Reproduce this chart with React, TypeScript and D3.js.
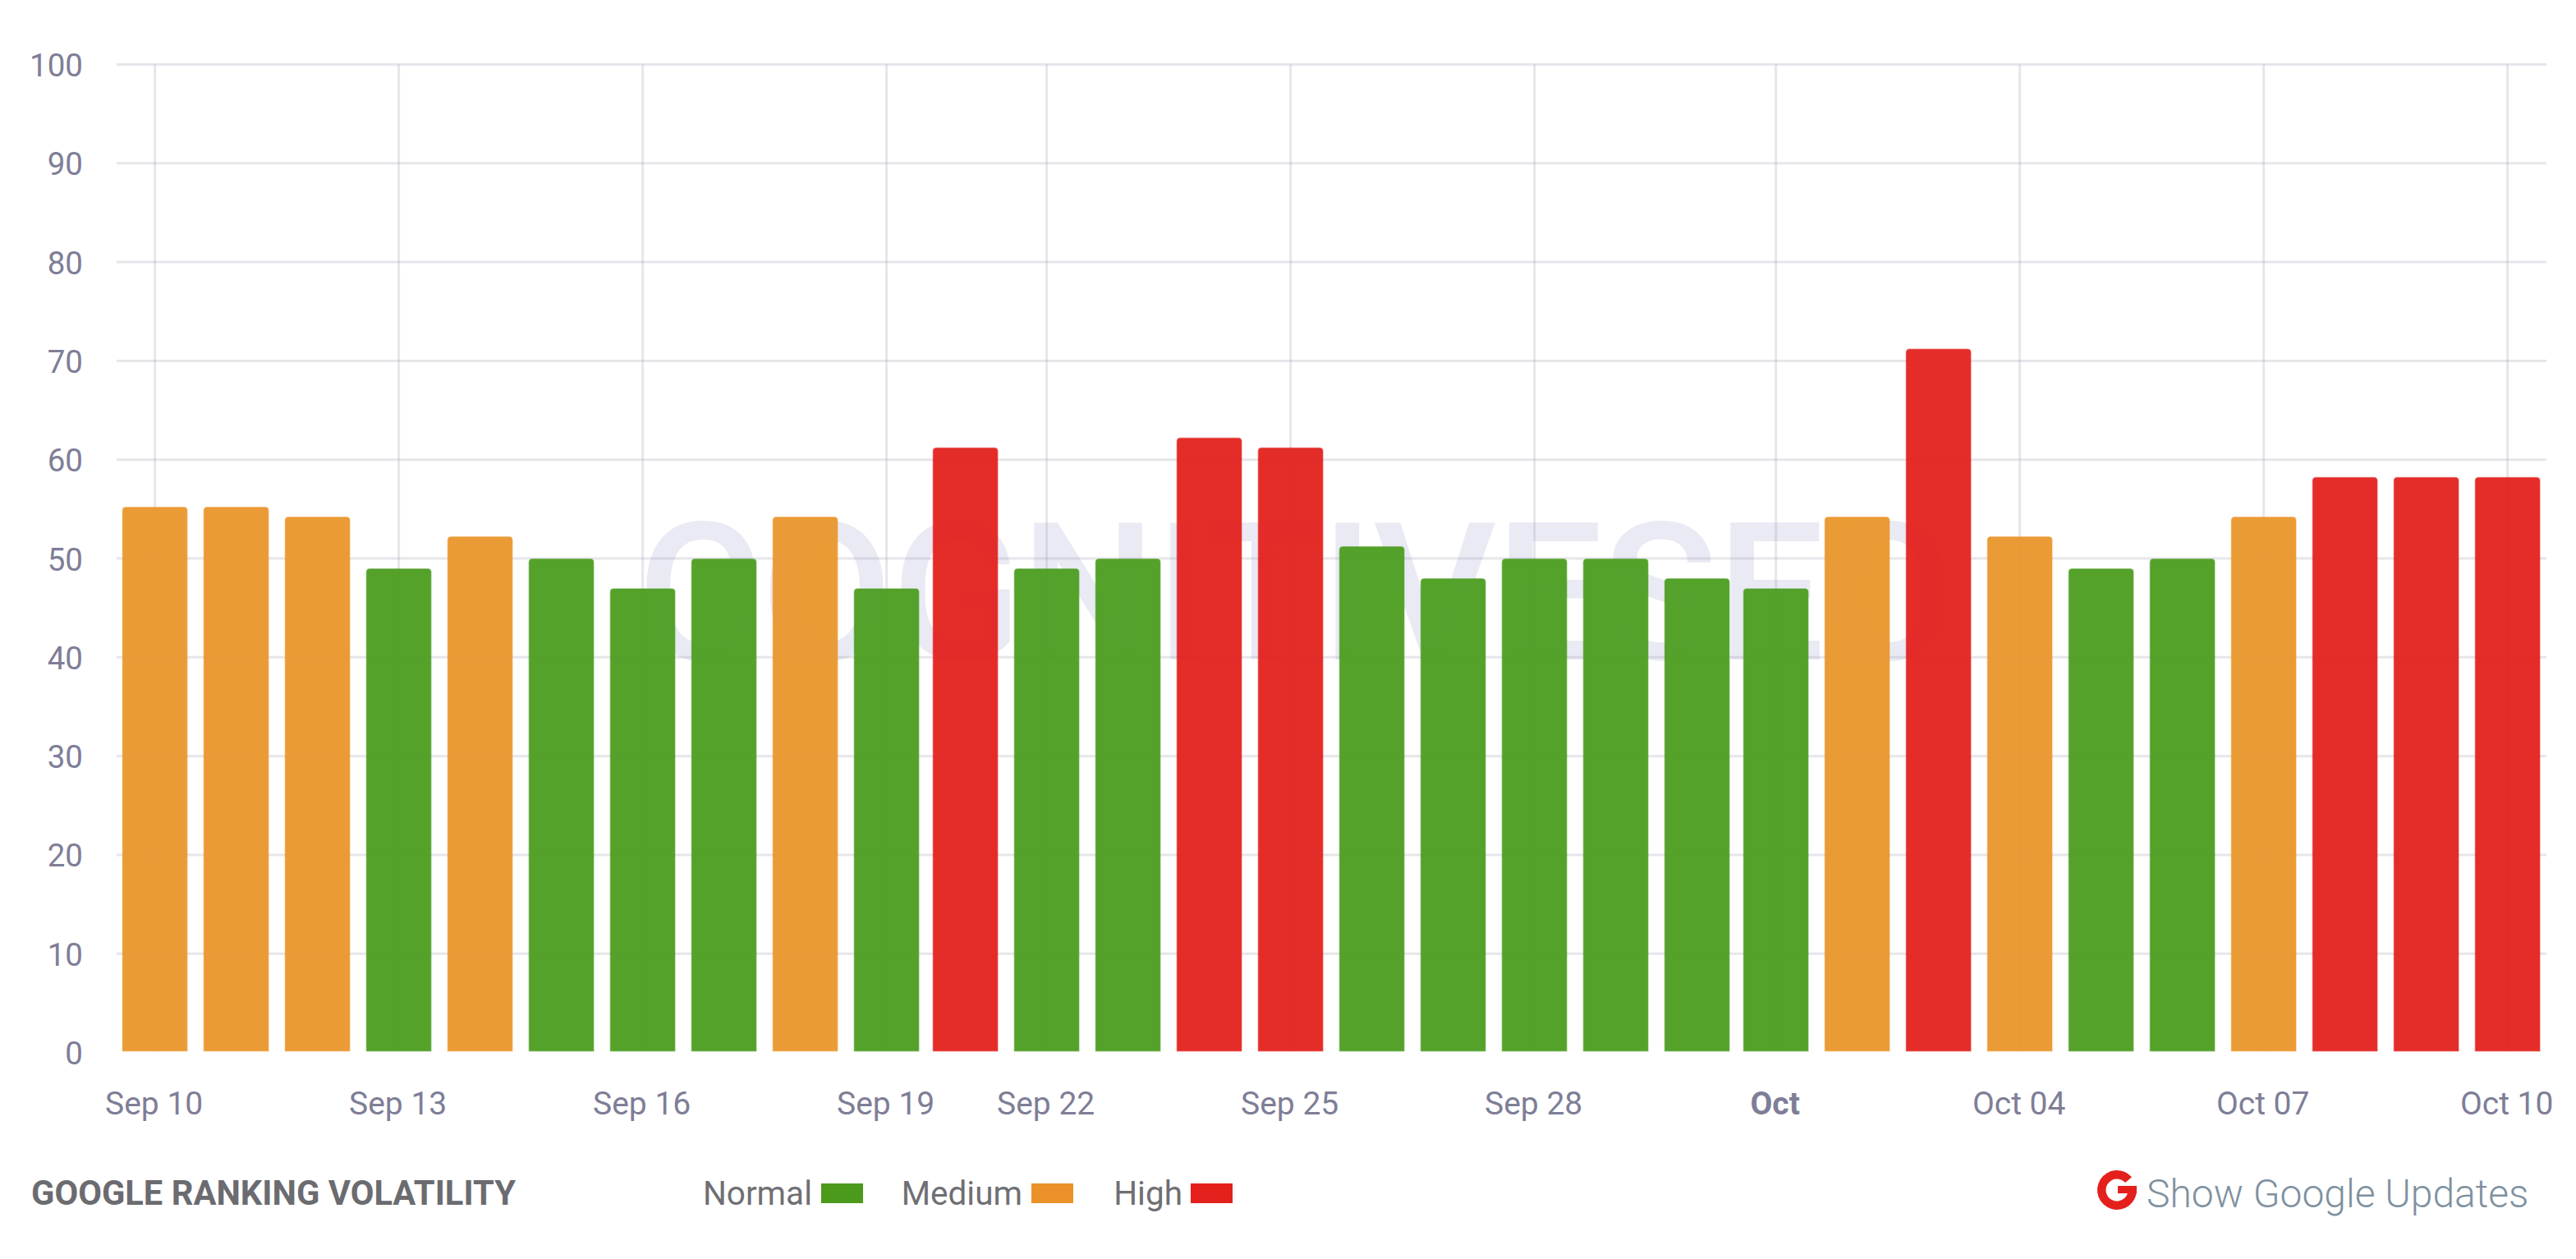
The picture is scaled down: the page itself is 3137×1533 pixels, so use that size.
import React from "react";
import * as d3 from "d3";

const W = 3137;
const H = 1533;

const dayOffsets = [0,1,2,3,4,5,6,7,8,9,9.97,10.97,11.97,12.97,13.97,14.97,15.97,16.97,17.97,18.97,19.94,20.94,21.94,22.94,23.94,24.94,25.94,26.94,27.94,28.94];
const volatility = [55.25,55.25,54.25,49,52.25,50,47,50,54.25,47,61.25,49,50,62.25,61.25,51.25,48,50,50,48,47,54.25,71.25,52.25,49,50,54.25,58.25,58.25,58.25];
const levels = ["Medium","Medium","Medium","Normal","Medium","Normal","Normal","Normal","Medium","Normal","High","Normal","Normal","High","High","Normal","Normal","Normal","Normal","Normal","Normal","Medium","High","Medium","Normal","Normal","Medium","High","High","High"];
const xTickIndex = [0,3,6,9,11,14,17,20,23,26,29];
const xTickLabels = ["Sep 10","Sep 13","Sep 16","Sep 19","Sep 22","Sep 25","Sep 28","Oct","Oct 04","Oct 07","Oct 10"];
const yTicks = [0,10,20,30,40,50,60,70,80,90,100];
const legendNames = ["Normal","Medium","High"];
const legendColors = ["#4b9a1b","#ea9229","#e4201c"];
const barColors: Record<string,string> = { Normal: "#4a9c1e", Medium: "#ea9529", High: "#e2201c" };

const FONT = "Roboto, sans-serif";

export default function App() {
  const x = d3.scaleLinear().domain([0, 28.94]).range([188.6, 188.6 + 99 * 28.94]);
  const y = d3.scaleLinear().domain([0, 100]).range([1281.6, 78.5]);
  const barW = 80;
  const radius = 4;
  const barBottom = y(0) - 1.9;
  const barPath = (v: number, d: number) => {
    const p = d3.path();
    const l = x(d) - barW / 2 + 0.75;
    const r = x(d) + barW / 2 - 0.75;
    const t = y(v) + 0.75;
    p.moveTo(l, barBottom);
    p.lineTo(l, t + radius);
    p.quadraticCurveTo(l, t, l + radius, t);
    p.lineTo(r - radius, t);
    p.quadraticCurveTo(r, t, r, t + radius);
    p.lineTo(r, barBottom);
    p.closePath();
    return p.toString();
  };
  const gArc = d3.arc()({
    innerRadius: 13.5,
    outerRadius: 24,
    startAngle: Math.PI / 2,
    endAngle: Math.PI * 2 + Math.PI * 0.27,
  }) as string;

  return (
    <svg
      width={W}
      height={H}
      viewBox={`0 0 ${W} ${H}`}
      style={{ position: "fixed", left: 0, top: 0, background: "#fff" }}
    >
      <text
        x={776}
        y={803}
        fontFamily={FONT}
        fontWeight={500}
        fontSize={233}
        fill="#e9eaf3"
        textLength={1605}
        lengthAdjust="spacing"
      >
        COGNITIVESEO
      </text>
      {yTicks.filter((t) => t > 0).map((t) => (
        <line key={t} x1={142} x2={3101} y1={y(t)} y2={y(t)} stroke="#9a9ab0" strokeOpacity={0.25} strokeWidth={3} />
      ))}
      {xTickIndex.map((i) => (
        <line key={i} x1={x(dayOffsets[i])} x2={x(dayOffsets[i])} y1={y(100)} y2={barBottom} stroke="#9a9ab0" strokeOpacity={0.25} strokeWidth={3} />
      ))}
      {volatility.map((v, i) => (
        <path
          key={i}
          d={barPath(v, dayOffsets[i])}
          fill={barColors[levels[i]]}
          fillOpacity={0.94}
          stroke={barColors[levels[i]]}
          strokeOpacity={0.45}
          strokeWidth={1.5}
        />
      ))}
      {yTicks.map((t) => (
        <text key={t} x={101} y={y(t) + 14.5} textAnchor="end" fontFamily={FONT} fontSize={38.5} fill="#7e7e97">
          {t}
        </text>
      ))}
      {xTickIndex.map((i, k) => (
        <text
          key={i}
          x={x(dayOffsets[i]) - 1}
          y={1356.5}
          textAnchor="middle"
          fontFamily={FONT}
          fontSize={39}
          fontWeight={xTickLabels[k] === "Oct" ? 700 : 400}
          fill="#7e7e97"
        >
          {xTickLabels[k]}
        </text>
      ))}
      <text x={38} y={1467} fontFamily={FONT} fontWeight={700} fontSize={41.7} fill="#6b6b70">
        GOOGLE RANKING VOLATILITY
      </text>
      {legendNames.map((n, i) => (
        <g key={n}>
          <text
            x={[989, 1245, 1440][i]}
            y={1467}
            textAnchor="end"
            fontFamily={FONT}
            fontSize={40.5}
            fill="#6f6f73"
          >
            {n}
          </text>
          <rect x={[1000, 1256, 1450][i]} y={1441} width={51} height={24} fill={legendColors[i]} />
        </g>
      ))}
      <g transform="translate(2578,1449)" fill="#e4201c">
        <path d={gArc} />
        <rect x={1} y={-5} width={23} height={9} />
      </g>
      <text x={2614} y={1469.5} fontFamily={FONT} fontWeight={300} fontSize={48} fill="#7f919f">
        Show Google Updates
      </text>
    </svg>
  );
}
